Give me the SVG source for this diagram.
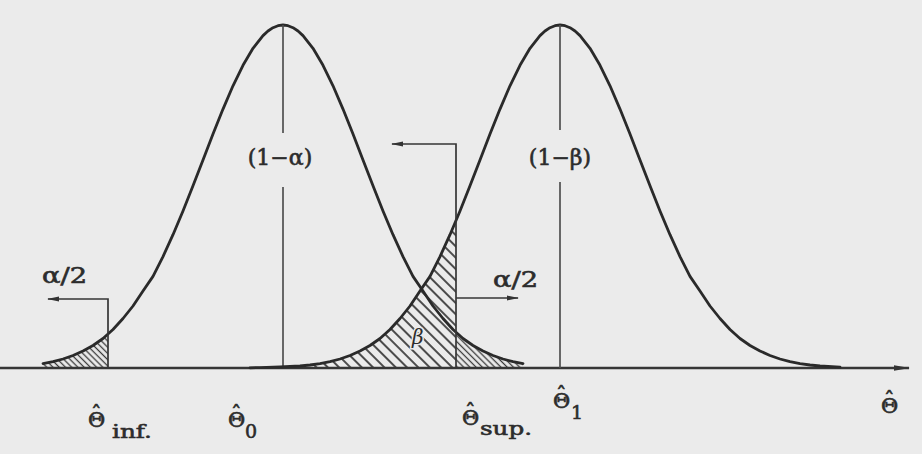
<svg xmlns="http://www.w3.org/2000/svg" width="922" height="454" viewBox="0 0 922 454">
<style>
.curve{fill:none;stroke:#2a2a2a;stroke-width:2.8;stroke-linejoin:round;stroke-linecap:round}
.vline{fill:none;stroke:#505050;stroke-width:1.7}
.conn{fill:none;stroke:#363636;stroke-width:1.7}
.axis{fill:none;stroke:#363636;stroke-width:2.3}
.lbl{font-family:"DejaVu Serif","Liberation Serif",serif;fill:#2c2c2c;stroke:#2c2c2c;stroke-width:0.6}
.big{font-size:22px}
.th{font-size:21px}
.sub{font-size:19px}
</style>
<defs>
<pattern id="hb" width="8" height="8" patternUnits="userSpaceOnUse" patternTransform="rotate(-45)">
<line x1="4" y1="0" x2="4" y2="8" stroke="#3a3a3a" stroke-width="1.8"/>
</pattern>
<pattern id="ha" width="4.4" height="4.4" patternUnits="userSpaceOnUse" patternTransform="rotate(-45)">
<line x1="2.2" y1="0" x2="2.2" y2="4.4" stroke="#3a3a3a" stroke-width="1.3"/>
</pattern>
<marker id="ah" viewBox="0 0 12 6" refX="11" refY="3" markerWidth="12" markerHeight="6" markerUnits="userSpaceOnUse" orient="auto">
<path d="M0,0.6 L12,3 L0,5.4 Z" fill="#333"/>
</marker>
<marker id="axh" viewBox="0 0 16 7" refX="15" refY="3.5" markerWidth="16" markerHeight="7" markerUnits="userSpaceOnUse" orient="auto">
<path d="M0,0.8 L16,3.5 L0,6.2 Z" fill="#333"/>
</marker>
</defs>
<rect width="922" height="454" fill="#ebebeb"/>

<g id="hatching">
<path d="M43,368 L43,363.6 53,361.7 63,359 73,355.5 83,351 93,345.5 103,338.5 108,334 L108,368 Z" fill="url(#ha)"/>
<path d="M250,368 L250,367.8 260,367.6 280,367 300,366 310,365 320,363.6 330,361.7 340,359 350,355.5 360,351 370,345.5 380,338.5 390,329.5 400,318.5 410,306 420,291 430,276.4 440,256.6 450,234.7 456,220.5 L456,368 Z" fill="url(#hb)"/>
<path d="M456,368 L456,332.2 463,338.5 473,345.5 483,351 493,355.5 503,359 513,361.7 523,363.6 L523,368 Z" fill="url(#ha)"/>
</g>

<g id="axis">
<line class="axis" x1="0" y1="368" x2="909" y2="368" marker-end="url(#axh)"/>
</g>

<g id="curve-h0">
<polyline class="curve" points="43,363.6 53,361.7 63,359 73,355.5 83,351 93,345.5 103,338.5 113,329.5 123,318.5 133,306 143,291 153,276.4 163,256.6 173,234.7 183,211 193,185.8 203,160 213,134.1 223,109.1 233,85.8 243,65.3 253,48.3 263,35.6 268,31 273,27.7 278,25.7 283,25 288,25.7 293,27.7 298,31 303,35.6 313,48.3 323,65.3 333,85.8 343,109.1 353,134.1 363,160 373,185.8 383,211 393,234.7 403,256.6 413,276.4 423,291 433,306 443,318.5 453,329.5 463,338.5 473,345.5 483,351 493,355.5 503,359 513,361.7 523,363.6"/>
<line class="vline" x1="283" y1="25" x2="283" y2="133"/>
<line class="vline" x1="283" y1="187" x2="283" y2="368"/>
<text class="lbl big" x="280" y="165" text-anchor="middle">(1−α)</text>
</g>

<g id="curve-h1">
<polyline class="curve" points="250,367.8 260,367.6 280,367 300,366 310,365 320,363.6 330,361.7 340,359 350,355.5 360,351 370,345.5 380,338.5 390,329.5 400,318.5 410,306 420,291 430,276.4 440,256.6 450,234.7 460,211 470,185.8 480,160 490,134.1 500,109.1 510,85.8 520,65.3 530,48.3 540,35.6 545,31 550,27.7 555,25.7 560,25 565,25.7 570,27.7 575,31 580,35.6 590,48.3 600,65.3 610,85.8 620,109.1 630,134.1 640,160 650,185.8 660,211 670,234.7 680,256.6 690,276.4 700,291 710,306 720,318.5 730,329.5 740,338.5 750,345.5 760,351 770,355.5 780,359 790,361.7 800,363.6 810,365 820,366 840,367.2"/>
<line class="vline" x1="560" y1="25" x2="560" y2="130"/>
<line class="vline" x1="560" y1="182" x2="560" y2="368"/>
<text class="lbl big" x="560" y="165" text-anchor="middle">(1−β)</text>
</g>

<g id="connectors">
<polyline class="conn" points="108,368 108,299 48,299" marker-end="url(#ah)"/>
<polyline class="conn" points="456,368 456,144 392,144" marker-end="url(#ah)"/>
<line class="conn" x1="456" y1="298" x2="518" y2="298" marker-end="url(#ah)"/>
</g>

<g id="label-alpha-left">
<text class="lbl big" x="42" y="283" textLength="45" lengthAdjust="spacingAndGlyphs">α/2</text>
</g>
<g id="label-alpha-right">
<text class="lbl big" x="493" y="287" textLength="45" lengthAdjust="spacingAndGlyphs">α/2</text>
</g>
<g id="label-beta">
<text x="412" y="344" font-family="DejaVu Serif, serif" font-size="20" font-style="italic" fill="#2c2c2c" stroke="#ebebeb" stroke-width="3" paint-order="stroke">β</text>
</g>

<g id="label-theta-inf">
<text class="lbl th" x="88" y="427">Θ<tspan x="91" y="421">ˆ</tspan><tspan class="sub" x="112" y="438" textLength="40" lengthAdjust="spacingAndGlyphs">inf.</tspan></text>
</g>
<g id="label-theta-0">
<text class="lbl th" x="228" y="427">Θ<tspan x="231" y="421">ˆ</tspan><tspan class="sub" x="245" y="438">0</tspan></text>
</g>
<g id="label-theta-sup">
<text class="lbl th" x="462" y="425">Θ<tspan x="465" y="419">ˆ</tspan><tspan class="sub" x="480" y="435" textLength="52" lengthAdjust="spacingAndGlyphs">sup.</tspan></text>
</g>
<g id="label-theta-1">
<text class="lbl th" x="553" y="408">Θ<tspan x="556" y="402">ˆ</tspan><tspan class="sub" x="571" y="419">1</tspan></text>
</g>
<g id="label-theta">
<text class="lbl th" x="881" y="413">Θ<tspan x="884" y="407">ˆ</tspan></text>
</g>
</svg>
